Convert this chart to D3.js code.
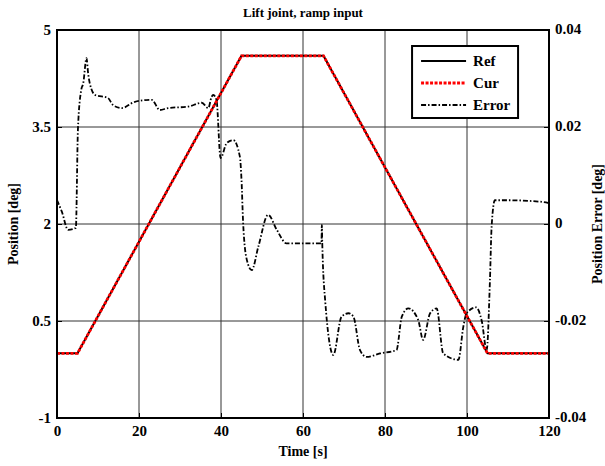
<!DOCTYPE html>
<html>
<head>
<meta charset="utf-8">
<script src="https://cdn.jsdelivr.net/npm/d3@7"></script>
<style>
  body { margin: 0; background: #fff; }
  text { font-family: "Liberation Serif", "Times New Roman", serif; font-weight: bold; }
</style>
</head>
<body>
<div id="chart"></div>
<script>
// reference / current position (deg) vs time (s)
let ref_t = [0, 5, 45, 65, 105, 120];
let ref_pos = [0, 0, 4.6, 4.6, 0, 0];
let cur_t = [0, 5, 45, 65, 105, 120];
let cur_pos = [0, 0, 4.6, 4.6, 0, 0];

// position error (deg) vs time (s)
let err_t = [0, 1.2, 2.7, 4.6, 5.1, 5.9, 6.4, 7.2, 7.6, 8.0, 9.3, 12.4, 13.7, 15.8, 19, 23.1, 25.1, 27.1, 32, 35.3,
             36.9, 37.7, 38.1, 38.9, 39.9, 41.4, 43, 44.6, 45, 45.4, 46.3, 47.5, 49.1, 51.5, 53.6, 56, 64.5, 64.6,
             64.7, 65.4, 67.4, 69.4, 71.1, 72.3, 73.9, 75.5, 78.8, 82.8, 84.1, 85.7, 88.1, 89.3, 91, 92.6, 94.2,
             97.9, 99.1, 99.9, 102.2, 103.6, 104.8, 105.6, 106, 106.8, 109.7, 117.8, 120];
let err_val = [0.0049, 0.0025, -0.0012, -0.0008, 0.0194, 0.0276, 0.029, 0.0342, 0.031, 0.029, 0.0266, 0.026, 0.0245,
               0.0239, 0.0252, 0.0256, 0.0235, 0.0239, 0.0242, 0.025, 0.0239, 0.0262, 0.0266, 0.0256, 0.0136, 0.0167,
               0.0173, 0.0139, 0.0091, 0.0002, -0.0074, -0.0095, -0.0047, 0.0019, -0.0012, -0.004, -0.004, -0.0002,
               -0.004, -0.0157, -0.027, -0.0191, -0.0184, -0.0191, -0.026, -0.0274, -0.0267, -0.026, -0.0191, -0.0174,
               -0.0198, -0.0239, -0.0184, -0.0174, -0.0267, -0.028, -0.0212, -0.0184, -0.0172, -0.02, -0.026, -0.0115,
               -0.0006, 0.0049, 0.0049, 0.0046, 0.0043];

let x_ticks = [0, 20, 40, 60, 80, 100, 120];
let y_ticks = [-1, 0.5, 2, 3.5, 5];
let y2_ticks = [-0.04, -0.02, 0, 0.02, 0.04];
let y2_labels = ["-0.04", "-0.02", "0", "0.02", "0.04"];
let legend_names = ["Ref", "Cur", "Error"];

let chart_width = 605;
let chart_height = 466;
let margin_top = 30;
let margin_right = 56;
let margin_bottom = 48;
let margin_left = 57;
let width = chart_width - margin_left - margin_right;
let height = chart_height - margin_top - margin_bottom;

let svg_root = d3.select("#chart").append("svg")
    .attr("width", chart_width)
    .attr("height", chart_height)
    .style("background", "#fff");

let svg = svg_root.append("g")
    .attr("transform", "translate(" + margin_left + "," + margin_top + ")");

let xScale = d3.scaleLinear().domain([0, 120]).range([0, width]);
let yScale = d3.scaleLinear().domain([-1, 5]).range([height, 0]);
let y2Scale = d3.scaleLinear().domain([-0.04, 0.04]).range([height, 0]);

// grid
svg.append("g").selectAll("line").data(x_ticks.slice(1, -1)).enter().append("line")
    .attr("x1", d => xScale(d)).attr("x2", d => xScale(d))
    .attr("y1", 0).attr("y2", height)
    .attr("stroke", "#333").attr("stroke-width", 1);
svg.append("g").selectAll("line").data(y_ticks.slice(1, -1)).enter().append("line")
    .attr("x1", 0).attr("x2", width)
    .attr("y1", d => yScale(d)).attr("y2", d => yScale(d))
    .attr("stroke", "#333").attr("stroke-width", 1);

// axes
let x_axis = svg.append("g").attr("transform", "translate(0," + height + ")")
    .call(d3.axisBottom(xScale).tickValues(x_ticks).tickSize(-5).tickPadding(8).tickSizeOuter(0));
let y_axis = svg.append("g")
    .call(d3.axisLeft(yScale).tickValues(y_ticks).tickSize(-5).tickPadding(6).tickSizeOuter(0)
        .tickFormat(d => String(d)));
let y2_axis = svg.append("g").attr("transform", "translate(" + width + ",0)")
    .call(d3.axisRight(y2Scale).tickValues(y2_ticks).tickSize(-5).tickPadding(6).tickSizeOuter(0)
        .tickFormat((d, i) => y2_labels[i]));

for (let ax of [x_axis, y_axis, y2_axis]) {
    ax.selectAll(".domain").remove();
    ax.selectAll("text").style("font-size", "15px").attr("fill", "#000");
    ax.selectAll("line").attr("stroke", "#000");
}
x_axis.selectAll("text").attr("dy", "0.65em");
y2_axis.selectAll("text").attr("dy", "0.25em");

// lines
let ref_line = d3.line().x((d, i) => xScale(ref_t[i])).y(d => yScale(d));
let cur_line = d3.line().x((d, i) => xScale(cur_t[i])).y(d => yScale(d));
let err_line = d3.line().x((d, i) => xScale(err_t[i])).y(d => y2Scale(d)).curve(d3.curveMonotoneX);

svg.append("path").datum(err_val)
    .attr("d", err_line)
    .attr("fill", "none")
    .attr("stroke", "#000")
    .attr("stroke-width", 1.8)
    .attr("stroke-dasharray", "5,2,1.5,2");

svg.append("path").datum(ref_pos)
    .attr("d", ref_line)
    .attr("fill", "none")
    .attr("stroke", "#000")
    .attr("stroke-width", 2);

svg.append("path").datum(cur_pos)
    .attr("d", cur_line)
    .attr("fill", "none")
    .attr("stroke", "#ff0000")
    .attr("stroke-width", 2.8)
    .attr("stroke-dasharray", "3,1.5");

// frame
svg.append("rect")
    .attr("x", 0).attr("y", 0)
    .attr("width", width).attr("height", height)
    .attr("fill", "none").attr("stroke", "#000").attr("stroke-width", 2);

// legend
let legend = svg.append("g").attr("transform", "translate(" + (xScale(86.6)) + "," + 16 + ")");
legend.append("rect")
    .attr("x", 0).attr("y", 0).attr("width", 106).attr("height", 72)
    .attr("fill", "#fff").attr("stroke", "#000").attr("stroke-width", 2);
let legend_styles = [
    { color: "#000", dash: null, w: 2 },
    { color: "#ff0000", dash: "3,1.5", w: 2.8 },
    { color: "#000", dash: "5,2,1.5,2", w: 1.8 }
];
legend_names.forEach(function(name, i) {
    let yy = 15 + i * 22;
    legend.append("line")
        .attr("x1", 9).attr("x2", 54).attr("y1", yy).attr("y2", yy)
        .attr("stroke", legend_styles[i].color)
        .attr("stroke-width", legend_styles[i].w)
        .attr("stroke-dasharray", legend_styles[i].dash);
    legend.append("text")
        .attr("x", 61).attr("y", yy).attr("dy", "0.35em")
        .style("font-size", "15px")
        .text(name);
});

// titles
svg_root.append("text")
    .attr("x", margin_left + width / 2).attr("y", 17)
    .attr("text-anchor", "middle")
    .style("font-size", "13px")
    .text("Lift joint, ramp input");

svg_root.append("text")
    .attr("x", margin_left + width / 2).attr("y", 456)
    .attr("text-anchor", "middle")
    .style("font-size", "14px")
    .text("Time [s]");

svg_root.append("text")
    .attr("transform", "translate(18," + (margin_top + height / 2) + ") rotate(-90)")
    .attr("text-anchor", "middle")
    .style("font-size", "14px")
    .text("Position [deg]");

svg_root.append("text")
    .attr("transform", "translate(597," + (margin_top + height / 2) + ") rotate(-90)")
    .attr("text-anchor", "middle")
    .attr("dy", "0.35em")
    .style("font-size", "14px")
    .text("Position Error [deg]");
</script>
</body>
</html>
